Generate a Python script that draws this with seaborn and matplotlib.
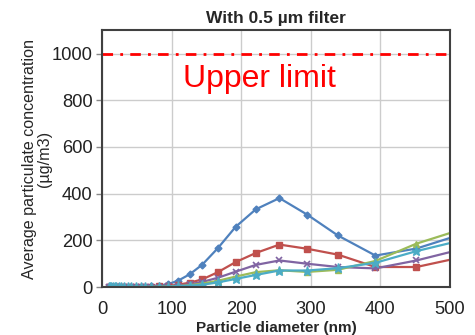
import matplotlib
matplotlib.use("Agg")
import seaborn as sns
from matplotlib import pyplot as plt

# particle diameter (nm)
diameter_nm = [10, 11.5, 13.3, 15.4, 17.8, 20.5, 23.7, 27.3, 31.6, 36.5, 42.1, 48.6,
               56.2, 62, 71, 82, 95, 109, 126, 144, 166.5, 192, 221, 255, 295, 339,
               393, 452, 522]

# average particulate concentration (ug/m3) for the five runs
conc_blue = [0, 0, 0, 0, 0, 0, 0, 0, 0, 0.5, 0.5, 1, 1, 2, 3, 6, 13, 27, 55, 96,
             167, 258, 333, 381, 310, 221, 135, 165, 231]
conc_red = [0, 0, 0, 0, 0, 0, 0, 0, 0, 0.5, 0.5, 1, 1, 1, 2, 3, 5, 10, 19, 33,
            64, 107, 146, 182, 164, 139, 86, 86, 131]
conc_green = [0, 0, 0, 0, 0, 0, 0, 0, 0, 0, 0.5, 0.5, 1, 1, 1, 2, 2, 4, 8, 15,
              27, 45, 64, 72, 65, 74, 112, 186, 252]
conc_purple = [0, 0, 0, 0, 0, 0, 0, 0, 0, 0, 0.5, 0.5, 1, 1, 1, 2, 3, 6, 12, 22,
               40, 66, 95, 114, 100, 86, 80, 114, 166]
conc_cyan = [0, 0, 0, 0, 0, 0, 0, 0, 0, 0, 0, 0.5, 0.5, 1, 1, 1, 2, 3, 6, 10,
             20, 35, 52, 71, 71, 81, 104, 154, 204]

upper_limit = 1000

x_ticks = [0, 100, 200, 300, 400, 500]
y_ticks = [0, 200, 400, 600, 800, 1000]

sns.set_theme(style="white")
plt.rcParams["font.family"] = ["Liberation Sans", "DejaVu Sans"]

fig, ax = plt.subplots(figsize=(4.75, 3.35), dpi=100)
fig.subplots_adjust(left=0.215, right=0.947, top=0.91, bottom=0.143)

# vertical / horizontal gridlines like the Excel chart
ax.set_axisbelow(True)
ax.grid(True, color="#cccccc", linewidth=1.0)

# Excel order: later series sit on top
series = [
    (conc_blue, "#4f81bd", "D", 3.5, 1.0),
    (conc_red, "#c0504d", "s", 5.0, 1.0),
    (conc_purple, "#8064a2", "x", 5.0, 1.2),
    (conc_green, "#9bbb59", "^", 5.0, 1.0),
    (conc_cyan, "#4bacc6", "*", 6.5, 1.0),
]
for vals, color, marker, ms, mew in series:
    sns.lineplot(x=diameter_nm, y=vals, ax=ax, color=color, marker=marker,
                 markersize=ms, markeredgecolor=color, markeredgewidth=mew,
                 linewidth=1.6, sort=False, estimator=None)

# upper limit dash-dot line
ax.axhline(upper_limit, color="#ff0000", linewidth=2.0, dashes=(3.8, 2.6, 1, 2.6))
ax.text(116, 893, "Upper limit", color="#ff0000", fontsize=23, va="center", ha="left")

ax.set_xlim(0, 500)
ax.set_ylim(0, 1100)
ax.set_xticks(x_ticks)
ax.set_yticks(y_ticks)
ax.tick_params(axis="both", labelsize=13.2, colors="#222222")
ax.tick_params(axis="y", left=True, length=4, width=1, color="#888888", pad=3)
ax.tick_params(axis="x", bottom=False, pad=4)

for side in ["left", "right", "top", "bottom"]:
    ax.spines[side].set_visible(True)
    ax.spines[side].set_color("#404040")
    ax.spines[side].set_linewidth(1.5)

ax.set_title("With 0.5 \u00b5m filter", fontsize=12.5, fontweight="bold", pad=5)
ax.set_xlabel("Particle diameter (nm)", fontsize=11, fontweight="bold", labelpad=2)
ax.set_ylabel("Average particulate concentration\n(\u00b5g/m3)", fontsize=11.6,
              linespacing=1.0, labelpad=0)

fig.savefig("out.png", dpi=100)
